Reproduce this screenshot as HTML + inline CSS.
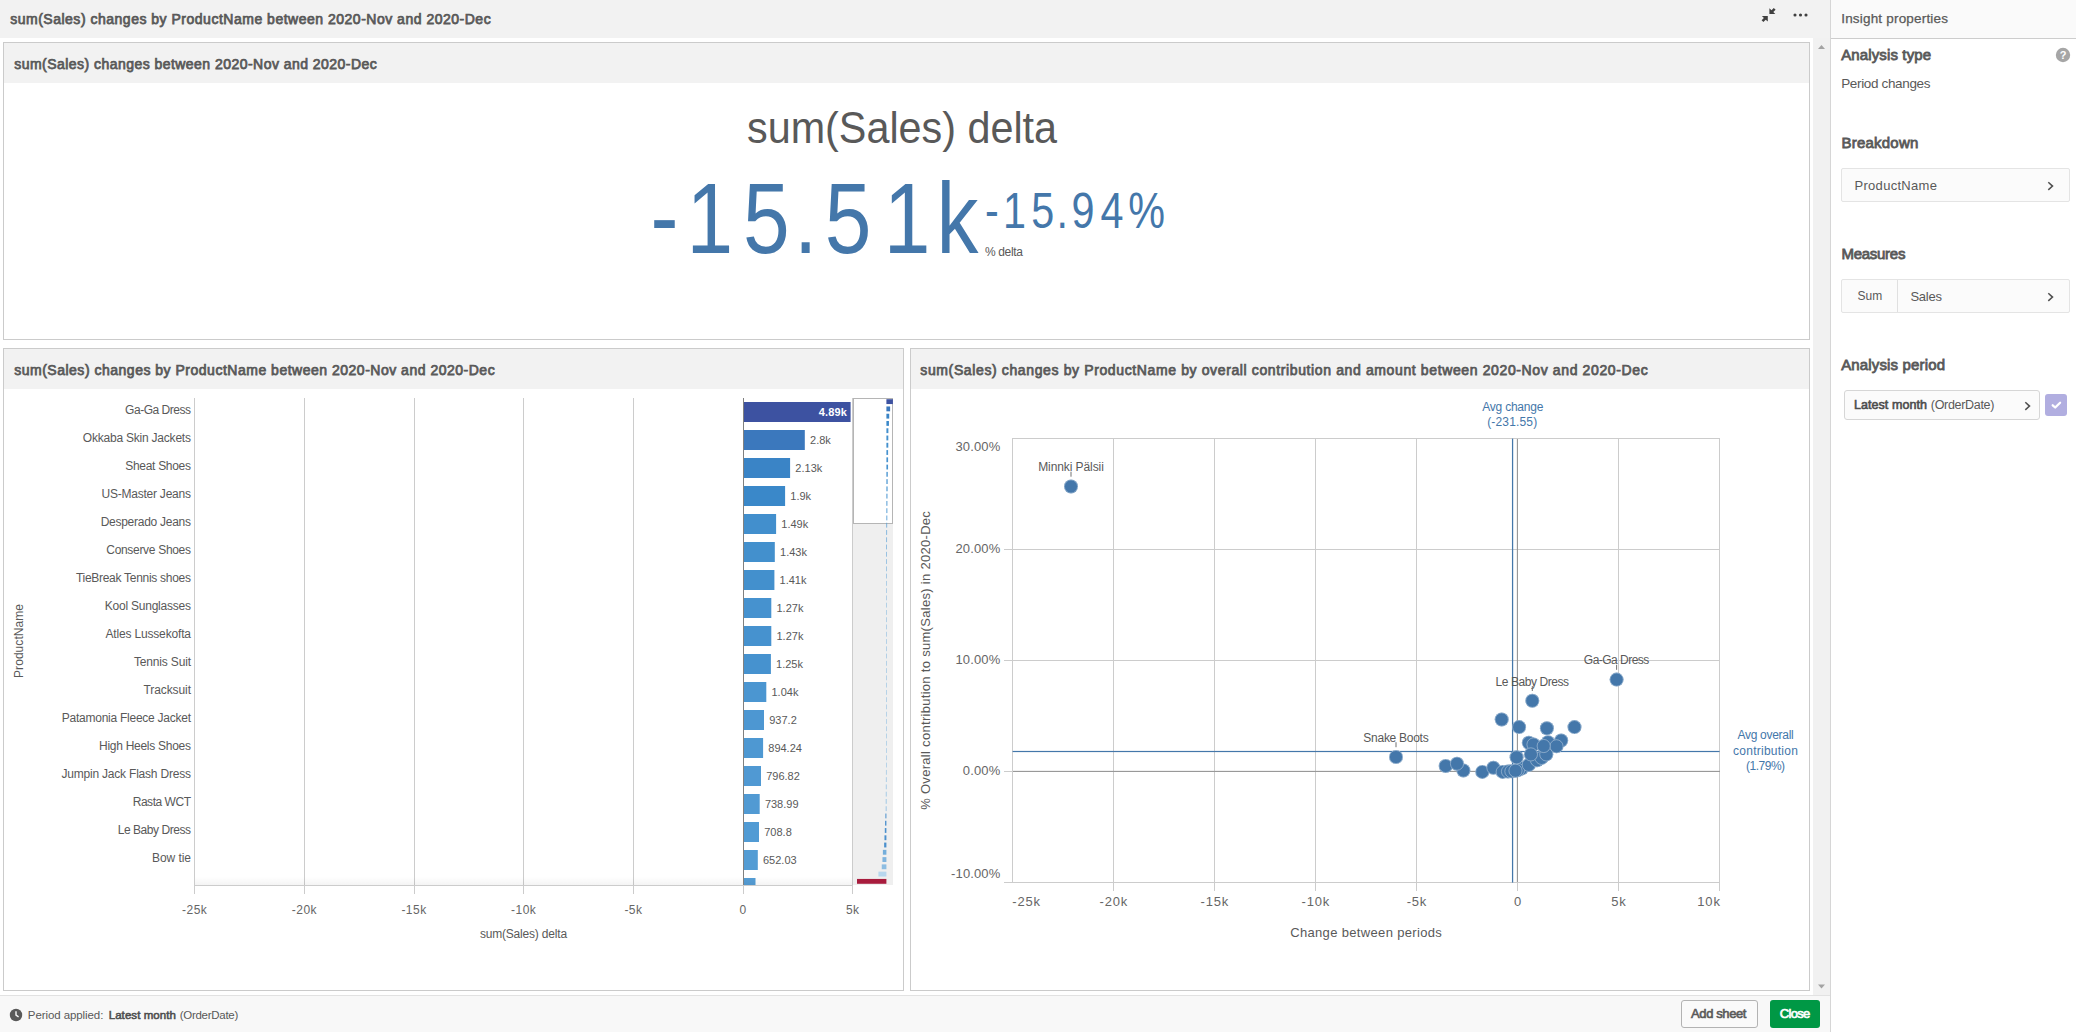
<!DOCTYPE html>
<html lang="en"><head><meta charset="utf-8"><title>sum(Sales) changes by ProductName between 2020-Nov and 2020-Dec</title>
<style>
html,body{margin:0;padding:0;}
body{width:2076px;height:1032px;overflow:hidden;background:#fff;position:relative;font-family:"Liberation Sans",sans-serif;color:#595959;}
*{box-sizing:border-box;}
.t{position:absolute;white-space:nowrap;margin:0;padding:0;font-weight:400;}
.abs{position:absolute;}
#main{position:absolute;left:0;top:0;width:1830px;height:1032px;background:#fff;overflow:hidden;}
#topbar{position:absolute;left:0;top:0;width:1830px;height:38px;background:#f2f2f2;}
#scroll{position:absolute;left:1813px;top:38px;width:17px;height:957px;background:#f1f1f1;}
.card{position:absolute;border:1px solid #cbcbcb;background:#fff;overflow:hidden;}
.card .hd{position:absolute;left:0;top:0;right:0;height:40px;background:#f2f2f2;}
#footer{position:absolute;left:0;top:995px;width:1830px;height:37px;background:#f8f8f8;border-top:1px solid #e2e2e2;}
#side{position:absolute;left:1830px;top:0;width:246px;height:1032px;background:#fff;border-left:1px solid #d6d6d6;}
#side .hd{position:absolute;left:0;top:0;right:0;height:39px;background:#fafafa;border-bottom:1px solid #cdcdcd;}
.box{position:absolute;background:#fbfbfb;border:1px solid #e4e4e4;border-radius:2px;}
.btn{position:absolute;border-radius:3px;height:28px;top:4px;}
svg{position:absolute;overflow:visible;}
svg text{font-family:"Liberation Sans",sans-serif;}
</style></head><body>
<div id="main"><header id="topbar"><h1 class="t" style="top:8.65px;font-size:14px;line-height:20px;color:#595959;letter-spacing:0.507px;left:10.20px;-webkit-text-stroke:0.75px #595959;">sum(Sales) changes by ProductName between 2020-Nov and 2020-Dec</h1><svg width="60" height="38" viewBox="1755 0 60 38" style="left:1755px;top:0">
<g fill="#404040">
<path d="M1769.4 8.2 L1769.4 14 L1775.3 14 L1773.3 12 L1775.6 9.7 L1773.8 7.9 L1771.5 10.2 Z"/>
<path d="M1767.8 21.6 L1767.8 16 L1761.9 16 L1763.9 18 L1761.6 20.3 L1763.4 22.1 L1765.7 19.8 Z"/>
<circle cx="1795" cy="15" r="1.55"/><circle cx="1800.5" cy="15" r="1.55"/><circle cx="1806" cy="15" r="1.55"/>
</g></svg></header><div id="scroll"><svg width="17" height="957" viewBox="0 0 17 957" style="left:0;top:0"><path d="M5 11 L8.5 7 L12 11 Z" fill="#a3a3a3"/><path d="M5 946.5 L8.5 950.5 L12 946.5 Z" fill="#a3a3a3"/></svg></div><section class="card" style="left:3px;top:42px;width:1807px;height:298px;"><div class="hd"></div><h2 class="t" style="top:10.55px;font-size:14px;line-height:20px;color:#595959;letter-spacing:0.461px;left:10.20px;-webkit-text-stroke:0.75px #595959;">sum(Sales) changes between 2020-Nov and 2020-Dec</h2><span class="t" style="top:55.49px;font-size:43.6px;line-height:61px;color:#595959;left:743.00px;transform:scaleX(0.948);transform-origin:0 50%;">sum(Sales) delta</span><svg width="1805" height="256" viewBox="4 83 1805 256" style="left:0;top:40px"><text transform="scale(0.835,1)" x="778.95 822.04 889.75 950.99 987.84 1058.33 1121.67" y="253.2" dy="-2.2 2.2 0 0 0 0 0" font-size="100.5" fill="#4477aa">-15.51k</text><text transform="scale(0.83,1)" x="1186.67 1208.55 1242.59 1272.89 1290.86 1325.77 1359.22" y="228.0" dy="-1.1 1.1 0 0 0 0 0" font-size="49.8" fill="#4477aa">-15.94%</text></svg><span class="t" style="top:200.94px;font-size:12px;line-height:17px;color:#595959;letter-spacing:-0.361px;left:981.00px;">% delta</span></section><section class="card" style="left:3px;top:348px;width:901px;height:643px;"><div class="hd"></div><h2 class="t" style="top:10.75px;font-size:14px;line-height:20px;color:#595959;letter-spacing:0.507px;left:10.20px;-webkit-text-stroke:0.75px #595959;">sum(Sales) changes by ProductName between 2020-Nov and 2020-Dec</h2><svg width="899" height="601" viewBox="4 389 899 601" style="left:0;top:40px"><rect x="194" y="398" width="1" height="496" fill="#cccccc"/><rect x="304" y="398" width="1" height="496" fill="#cccccc"/><rect x="414" y="398" width="1" height="496" fill="#cccccc"/><rect x="523" y="398" width="1" height="496" fill="#cccccc"/><rect x="633" y="398" width="1" height="496" fill="#cccccc"/><rect x="852" y="398" width="1" height="496" fill="#cccccc"/><rect x="194" y="885" width="659" height="1" fill="#cccccc"/><defs><linearGradient id="sh" x1="0" y1="0" x2="0" y2="1"><stop offset="0" stop-color="#000" stop-opacity="0"/><stop offset="1" stop-color="#000" stop-opacity="0.045"/></linearGradient><clipPath id="cp"><rect x="195" y="398" width="658" height="487"/></clipPath></defs><g clip-path="url(#cp)"><rect x="743.5" y="402" width="107.1" height="20" fill="#3d52a1"/><rect x="743.5" y="430" width="61.3" height="20" fill="#3b78bd"/><rect x="743.5" y="458" width="46.6" height="20" fill="#3a84c6"/><rect x="743.5" y="486" width="41.6" height="20" fill="#3a88c9"/><rect x="743.5" y="514" width="32.6" height="20" fill="#428fcd"/><rect x="743.5" y="542" width="31.3" height="20" fill="#4390cd"/><rect x="743.5" y="570" width="30.9" height="20" fill="#4390cd"/><rect x="743.5" y="598" width="27.8" height="20" fill="#4692cf"/><rect x="743.5" y="626" width="27.8" height="20" fill="#4692cf"/><rect x="743.5" y="654" width="27.4" height="20" fill="#4692cf"/><rect x="743.5" y="682" width="22.8" height="20" fill="#4b96d1"/><rect x="743.5" y="710" width="20.5" height="20" fill="#4d97d2"/><rect x="743.5" y="738" width="19.6" height="20" fill="#4e98d2"/><rect x="743.5" y="766" width="17.5" height="20" fill="#5099d3"/><rect x="743.5" y="794" width="16.2" height="20" fill="#519ad3"/><rect x="743.5" y="822" width="15.5" height="20" fill="#519bd4"/><rect x="743.5" y="850" width="14.3" height="20" fill="#539cd4"/><rect x="743.5" y="878" width="12.0" height="20" fill="#559dd5"/><rect x="195" y="877" width="658" height="8" fill="url(#sh)"/></g><rect x="743" y="398" width="1" height="487" fill="#808080"/><rect x="743" y="885" width="1" height="9" fill="#cccccc"/><text x="190.52" y="414.00" font-size="12" fill="#595959" text-anchor="end" letter-spacing="-0.48">Ga-Ga Dress</text><text x="847.20" y="415.80" font-size="11" fill="#ffffff" text-anchor="end" letter-spacing="0.195" font-weight="700">4.89k</text><text x="190.79" y="442.00" font-size="12" fill="#595959" text-anchor="end" letter-spacing="-0.213">Okkaba Skin Jackets</text><text x="810.02" y="444.00" font-size="11" fill="#595959">2.8k</text><text x="190.70" y="470.00" font-size="12" fill="#595959" text-anchor="end" letter-spacing="-0.302">Sheat Shoes</text><text x="795.35" y="472.00" font-size="11" fill="#595959">2.13k</text><text x="190.77" y="498.00" font-size="12" fill="#595959" text-anchor="end" letter-spacing="-0.227">US-Master Jeans</text><text x="790.31" y="500.00" font-size="11" fill="#595959">1.9k</text><text x="190.74" y="526.00" font-size="12" fill="#595959" text-anchor="end" letter-spacing="-0.264">Desperado Jeans</text><text x="781.33" y="528.00" font-size="11" fill="#595959">1.49k</text><text x="190.69" y="554.00" font-size="12" fill="#595959" text-anchor="end" letter-spacing="-0.309">Conserve Shoes</text><text x="780.02" y="556.00" font-size="11" fill="#595959">1.43k</text><text x="190.72" y="582.00" font-size="12" fill="#595959" text-anchor="end" letter-spacing="-0.283">TieBreak Tennis shoes</text><text x="779.58" y="584.00" font-size="11" fill="#595959">1.41k</text><text x="190.77" y="610.00" font-size="12" fill="#595959" text-anchor="end" letter-spacing="-0.226">Kool Sunglasses</text><text x="776.51" y="612.00" font-size="11" fill="#595959">1.27k</text><text x="190.83" y="638.00" font-size="12" fill="#595959" text-anchor="end" letter-spacing="-0.166">Atles Lussekofta</text><text x="776.51" y="640.00" font-size="11" fill="#595959">1.27k</text><text x="190.84" y="666.00" font-size="12" fill="#595959" text-anchor="end" letter-spacing="-0.164">Tennis Suit</text><text x="776.08" y="668.00" font-size="11" fill="#595959">1.25k</text><text x="190.90" y="694.00" font-size="12" fill="#595959" text-anchor="end" letter-spacing="-0.103">Tracksuit</text><text x="771.48" y="696.00" font-size="11" fill="#595959">1.04k</text><text x="190.75" y="722.00" font-size="12" fill="#595959" text-anchor="end" letter-spacing="-0.254">Patamonia Fleece Jacket</text><text x="769.22" y="724.00" font-size="11" fill="#595959">937.2</text><text x="190.73" y="750.00" font-size="12" fill="#595959" text-anchor="end" letter-spacing="-0.272">High Heels Shoes</text><text x="768.28" y="752.00" font-size="11" fill="#595959">894.24</text><text x="190.79" y="778.00" font-size="12" fill="#595959" text-anchor="end" letter-spacing="-0.206">Jumpin Jack Flash Dress</text><text x="766.15" y="780.00" font-size="11" fill="#595959">796.82</text><text x="190.53" y="806.00" font-size="12" fill="#595959" text-anchor="end" letter-spacing="-0.467">Rasta WCT</text><text x="764.88" y="808.00" font-size="11" fill="#595959">738.99</text><text x="190.55" y="834.00" font-size="12" fill="#595959" text-anchor="end" letter-spacing="-0.454">Le Baby Dress</text><text x="764.22" y="836.00" font-size="11" fill="#595959">708.8</text><text x="190.94" y="862.00" font-size="12" fill="#595959" text-anchor="end" letter-spacing="-0.065">Bow tie</text><text x="762.98" y="864.00" font-size="11" fill="#595959">652.03</text><text x="194.73" y="914.00" font-size="12" fill="#666666" text-anchor="middle" letter-spacing="0.467">-25k</text><text x="304.43" y="914.00" font-size="12" fill="#666666" text-anchor="middle" letter-spacing="0.467">-20k</text><text x="414.03" y="914.00" font-size="12" fill="#666666" text-anchor="middle" letter-spacing="0.467">-15k</text><text x="523.73" y="914.00" font-size="12" fill="#666666" text-anchor="middle" letter-spacing="0.467">-10k</text><text x="633.42" y="914.00" font-size="12" fill="#666666" text-anchor="middle" letter-spacing="0.445">-5k</text><text x="743.07" y="914.00" font-size="12" fill="#666666" text-anchor="middle" letter-spacing="0.534">0</text><text x="852.75" y="914.00" font-size="12" fill="#666666" text-anchor="middle" letter-spacing="0.507">5k</text><text x="523.40" y="938.00" font-size="12" fill="#595959" text-anchor="middle" letter-spacing="-0.19">sum(Sales) delta</text><g transform="translate(22.5,641) rotate(-90)"><text x="0.03" y="0.00" font-size="12" fill="#595959" text-anchor="middle" letter-spacing="0.057">ProductName</text></g><rect x="853" y="398" width="40" height="487" fill="#efefef"/><rect x="853.5" y="398.5" width="39" height="125" fill="#ffffff" stroke="#b5b5b5"/><rect x="886.40" y="399.20" width="6.50" height="4.85" fill="#3d52a1"/><rect x="886.40" y="406.47" width="3.72" height="4.85" fill="#3b78bd"/><rect x="886.40" y="413.74" width="2.83" height="4.85" fill="#3a84c6"/><rect x="886.40" y="421.01" width="2.53" height="4.85" fill="#3a88c9"/><rect x="886.40" y="428.27" width="1.98" height="4.85" fill="#428fcd"/><rect x="886.40" y="435.54" width="1.90" height="4.85" fill="#4390cd"/><rect x="886.40" y="442.81" width="1.88" height="4.85" fill="#4390cd"/><rect x="886.40" y="450.08" width="1.69" height="4.85" fill="#4692cf"/><rect x="886.40" y="457.35" width="1.69" height="4.85" fill="#4692cf"/><rect x="886.40" y="464.62" width="1.66" height="4.85" fill="#4692cf"/><rect x="886.40" y="471.89" width="1.38" height="4.85" fill="#4b96d1"/><rect x="886.40" y="479.16" width="1.25" height="4.85" fill="#4d97d2"/><rect x="886.40" y="486.42" width="1.19" height="4.85" fill="#4e98d2"/><rect x="886.40" y="493.69" width="1.06" height="4.85" fill="#5099d3"/><rect x="886.40" y="500.96" width="0.98" height="4.85" fill="#519ad3"/><rect x="886.40" y="508.23" width="0.94" height="4.85" fill="#519bd4"/><rect x="886.40" y="515.50" width="0.87" height="4.85" fill="#539cd4"/><rect x="886.40" y="522.77" width="0.73" height="4.85" fill="#559dd5"/><rect x="886.40" y="530.04" width="0.67" height="4.85" fill="#569ed6"/><rect x="886.40" y="537.30" width="0.63" height="4.85" fill="#569ed6"/><rect x="886.40" y="544.57" width="0.60" height="4.85" fill="#579fd6"/><rect x="886.40" y="551.84" width="0.57" height="4.85" fill="#579fd6"/><rect x="886.40" y="559.11" width="0.53" height="4.85" fill="#589fd7"/><rect x="886.40" y="566.38" width="0.50" height="4.85" fill="#58a0d7"/><rect x="886.40" y="573.65" width="0.47" height="4.85" fill="#59a0d7"/><rect x="886.40" y="580.92" width="0.43" height="4.85" fill="#59a1d7"/><rect x="886.40" y="588.19" width="0.40" height="4.85" fill="#5aa1d8"/><rect x="886.40" y="595.45" width="0.40" height="4.85" fill="#5aa1d8"/><rect x="886.40" y="602.72" width="0.40" height="4.85" fill="#5ba2d8"/><rect x="886.40" y="609.99" width="0.40" height="4.85" fill="#5ba2d8"/><rect x="886.40" y="617.26" width="0.40" height="4.85" fill="#5ca2d8"/><rect x="886.40" y="624.53" width="0.40" height="4.85" fill="#5ca3d9"/><rect x="886.40" y="631.80" width="0.40" height="4.85" fill="#5da3d9"/><rect x="886.40" y="639.07" width="0.40" height="4.85" fill="#5da4d9"/><rect x="886.40" y="646.33" width="0.40" height="4.85" fill="#5ea4d9"/><rect x="886.40" y="653.60" width="0.40" height="4.85" fill="#5ea4da"/><rect x="886.40" y="660.87" width="0.40" height="4.85" fill="#5fa5da"/><rect x="886.40" y="668.14" width="0.40" height="4.85" fill="#5fa5da"/><rect x="886.40" y="675.41" width="0.40" height="4.85" fill="#5fa5da"/><rect x="886.00" y="682.68" width="0.40" height="4.85" fill="#60a6db"/><rect x="886.00" y="689.95" width="0.40" height="4.85" fill="#61a6db"/><rect x="886.00" y="697.21" width="0.40" height="4.85" fill="#61a7db"/><rect x="886.00" y="704.48" width="0.40" height="4.85" fill="#62a7db"/><rect x="886.00" y="711.75" width="0.40" height="4.85" fill="#62a7db"/><rect x="886.00" y="719.02" width="0.40" height="4.85" fill="#63a8dc"/><rect x="886.00" y="726.29" width="0.40" height="4.85" fill="#63a8dc"/><rect x="886.00" y="733.56" width="0.40" height="4.85" fill="#64a9dc"/><rect x="886.00" y="740.83" width="0.40" height="4.85" fill="#64a9dc"/><rect x="886.00" y="748.10" width="0.40" height="4.85" fill="#65a9dd"/><rect x="886.00" y="755.36" width="0.40" height="4.85" fill="#65aadd"/><rect x="886.00" y="762.63" width="0.40" height="4.85" fill="#66aadd"/><rect x="885.97" y="769.90" width="0.43" height="4.85" fill="#66aadd"/><rect x="885.93" y="777.17" width="0.47" height="4.85" fill="#67abde"/><rect x="885.90" y="784.44" width="0.50" height="4.85" fill="#67abde"/><rect x="885.87" y="791.71" width="0.53" height="4.85" fill="#68acde"/><rect x="885.83" y="798.98" width="0.57" height="4.85" fill="#68acde"/><rect x="885.80" y="806.24" width="0.60" height="4.85" fill="#69acde"/><rect x="885.39" y="813.51" width="1.01" height="4.85" fill="#4b90cd"/><rect x="885.07" y="820.78" width="1.33" height="4.85" fill="#4b90cd"/><rect x="884.80" y="828.05" width="1.60" height="4.85" fill="#4b90cd"/><rect x="884.47" y="835.32" width="1.93" height="4.85" fill="#4b90cd"/><rect x="884.14" y="842.59" width="2.26" height="4.85" fill="#4b90cd"/><rect x="882.88" y="849.86" width="3.52" height="4.85" fill="#74aedb"/><rect x="882.45" y="857.13" width="3.95" height="4.85" fill="#7fb4de"/><rect x="881.75" y="864.39" width="4.66" height="4.85" fill="#8dbde2"/><rect x="878.42" y="871.66" width="7.98" height="4.85" fill="#b7d7ee"/><rect x="857.01" y="878.93" width="29.39" height="4.85" fill="#a81c3d"/></svg></section><section class="card" style="left:910px;top:348px;width:900px;height:643px;"><div class="hd"></div><h2 class="t" style="top:10.75px;font-size:14px;line-height:20px;color:#595959;letter-spacing:0.623px;left:9.30px;-webkit-text-stroke:0.75px #595959;">sum(Sales) changes by ProductName by overall contribution and amount between 2020-Nov and 2020-Dec</h2><svg width="898" height="601" viewBox="911 389 898 601" style="left:0;top:40px"><rect x="1012" y="438" width="1" height="445" fill="#cccccc"/><rect x="1113" y="438" width="1" height="453" fill="#cccccc"/><rect x="1214" y="438" width="1" height="453" fill="#cccccc"/><rect x="1315" y="438" width="1" height="453" fill="#cccccc"/><rect x="1416" y="438" width="1" height="453" fill="#cccccc"/><rect x="1618" y="438" width="1" height="453" fill="#cccccc"/><rect x="1719" y="438" width="1" height="453" fill="#cccccc"/><rect x="1012" y="438" width="708" height="1" fill="#cccccc"/><rect x="1004" y="549" width="716" height="1" fill="#cccccc"/><rect x="1004" y="660" width="716" height="1" fill="#cccccc"/><rect x="1004" y="882" width="716" height="1" fill="#cccccc"/><rect x="1004" y="771" width="9" height="1" fill="#cccccc"/><rect x="1013" y="770.85" width="707" height="1.15" fill="#999999"/><rect x="1516.85" y="439" width="1.15" height="443" fill="#999999"/><rect x="1517" y="882" width="1" height="9" fill="#cccccc"/><rect x="1511.95" y="438.6" width="1.25" height="444" fill="#4477aa"/><rect x="1012.6" y="750.9" width="707" height="1.2" fill="#4477aa"/><text x="1000.45" y="451.00" font-size="13" fill="#666666" text-anchor="end" letter-spacing="0.147">30.00%</text><text x="1000.45" y="553.30" font-size="13" fill="#666666" text-anchor="end" letter-spacing="0.147">20.00%</text><text x="1000.45" y="664.00" font-size="13" fill="#666666" text-anchor="end" letter-spacing="0.147">10.00%</text><text x="1000.45" y="775.00" font-size="13" fill="#666666" text-anchor="end" letter-spacing="0.147">0.00%</text><text x="1000.44" y="877.70" font-size="13" fill="#666666" text-anchor="end" letter-spacing="0.138">-10.00%</text><text x="1012.30" y="905.50" font-size="13" fill="#666666" letter-spacing="0.822">-25k</text><text x="1113.91" y="905.50" font-size="13" fill="#666666" text-anchor="middle" letter-spacing="0.822">-20k</text><text x="1214.91" y="905.50" font-size="13" fill="#666666" text-anchor="middle" letter-spacing="0.822">-15k</text><text x="1315.91" y="905.50" font-size="13" fill="#666666" text-anchor="middle" letter-spacing="0.822">-10k</text><text x="1416.89" y="905.50" font-size="13" fill="#666666" text-anchor="middle" letter-spacing="0.783">-5k</text><text x="1517.97" y="905.50" font-size="13" fill="#666666" text-anchor="middle" letter-spacing="0.94">0</text><text x="1618.95" y="905.50" font-size="13" fill="#666666" text-anchor="middle" letter-spacing="0.892">5k</text><text x="1720.91" y="905.50" font-size="13" fill="#666666" text-anchor="end" letter-spacing="0.908">10k</text><text x="1366.17" y="937.00" font-size="13" fill="#595959" text-anchor="middle" letter-spacing="0.339">Change between periods</text><g transform="translate(930,660.5) rotate(-90)"><text x="0.15" y="0.00" font-size="13" fill="#595959" text-anchor="middle" letter-spacing="0.298">% Overall contribution to sum(Sales) in 2020-Dec</text></g><text x="1512.68" y="411.20" font-size="12" fill="#4477aa" text-anchor="middle" letter-spacing="-0.237">Avg change</text><text x="1512.28" y="426.10" font-size="12" fill="#4477aa" text-anchor="middle" letter-spacing="0.167">(-231.55)</text><text x="1765.46" y="739.00" font-size="12" fill="#4477aa" text-anchor="middle" letter-spacing="-0.286">Avg overall</text><text x="1765.62" y="755.00" font-size="12" fill="#4477aa" text-anchor="middle" letter-spacing="0.247">contribution</text><text x="1765.35" y="769.50" font-size="12" fill="#4477aa" text-anchor="middle" letter-spacing="-0.503">(1.79%)</text><text x="1070.96" y="470.90" font-size="12" fill="#595959" text-anchor="middle" letter-spacing="-0.084">Minnki Pälsii</text><rect x="1070.5" y="471.7" width="1" height="5" fill="#737373"/><text x="1616.34" y="664.20" font-size="12" fill="#595959" text-anchor="middle" letter-spacing="-0.517">Ga-Ga Dress</text><rect x="1616.1" y="664.8" width="1" height="5" fill="#737373"/><text x="1532.08" y="686.00" font-size="12" fill="#595959" text-anchor="middle" letter-spacing="-0.439">Le Baby Dress</text><rect x="1531.8" y="686.0" width="1" height="5" fill="#737373"/><text x="1395.86" y="741.70" font-size="12" fill="#595959" text-anchor="middle" letter-spacing="-0.277">Snake Boots</text><rect x="1395.5" y="742.2" width="1" height="5" fill="#737373"/><g fill="#4477aa"><circle cx="1071" cy="486.5" r="7"/><circle cx="1071" cy="486.5" r="6.6" fill="none" stroke="#ffffff" stroke-opacity="0.45" stroke-width="0.8"/><circle cx="1616.6" cy="679.6" r="7"/><circle cx="1616.6" cy="679.6" r="6.6" fill="none" stroke="#ffffff" stroke-opacity="0.45" stroke-width="0.8"/><circle cx="1396" cy="757" r="7"/><circle cx="1396" cy="757" r="6.6" fill="none" stroke="#ffffff" stroke-opacity="0.45" stroke-width="0.8"/><circle cx="1445.7" cy="766" r="7"/><circle cx="1445.7" cy="766" r="6.6" fill="none" stroke="#ffffff" stroke-opacity="0.45" stroke-width="0.8"/><circle cx="1463.4" cy="770.5" r="7"/><circle cx="1463.4" cy="770.5" r="6.6" fill="none" stroke="#ffffff" stroke-opacity="0.45" stroke-width="0.8"/><circle cx="1457" cy="763.7" r="7"/><circle cx="1457" cy="763.7" r="6.6" fill="none" stroke="#ffffff" stroke-opacity="0.45" stroke-width="0.8"/><circle cx="1482.3" cy="771.9" r="7"/><circle cx="1482.3" cy="771.9" r="6.6" fill="none" stroke="#ffffff" stroke-opacity="0.45" stroke-width="0.8"/><circle cx="1493.4" cy="767.8" r="7"/><circle cx="1493.4" cy="767.8" r="6.6" fill="none" stroke="#ffffff" stroke-opacity="0.45" stroke-width="0.8"/><circle cx="1502.7" cy="771.9" r="7"/><circle cx="1502.7" cy="771.9" r="6.6" fill="none" stroke="#ffffff" stroke-opacity="0.45" stroke-width="0.8"/><circle cx="1508" cy="771.5" r="7"/><circle cx="1508" cy="771.5" r="6.6" fill="none" stroke="#ffffff" stroke-opacity="0.45" stroke-width="0.8"/><circle cx="1511.4" cy="771.3" r="7"/><circle cx="1511.4" cy="771.3" r="6.6" fill="none" stroke="#ffffff" stroke-opacity="0.45" stroke-width="0.8"/><circle cx="1521.9" cy="768.4" r="7"/><circle cx="1521.9" cy="768.4" r="6.6" fill="none" stroke="#ffffff" stroke-opacity="0.45" stroke-width="0.8"/><circle cx="1518" cy="770" r="7"/><circle cx="1518" cy="770" r="6.6" fill="none" stroke="#ffffff" stroke-opacity="0.45" stroke-width="0.8"/><circle cx="1515.5" cy="770.7" r="7"/><circle cx="1515.5" cy="770.7" r="6.6" fill="none" stroke="#ffffff" stroke-opacity="0.45" stroke-width="0.8"/><circle cx="1528.8" cy="764.9" r="7"/><circle cx="1528.8" cy="764.9" r="6.6" fill="none" stroke="#ffffff" stroke-opacity="0.45" stroke-width="0.8"/><circle cx="1537" cy="760.2" r="7"/><circle cx="1537" cy="760.2" r="6.6" fill="none" stroke="#ffffff" stroke-opacity="0.45" stroke-width="0.8"/><circle cx="1541.6" cy="757.9" r="7"/><circle cx="1541.6" cy="757.9" r="6.6" fill="none" stroke="#ffffff" stroke-opacity="0.45" stroke-width="0.8"/><circle cx="1546.3" cy="754.4" r="7"/><circle cx="1546.3" cy="754.4" r="6.6" fill="none" stroke="#ffffff" stroke-opacity="0.45" stroke-width="0.8"/><circle cx="1516.6" cy="757.3" r="7"/><circle cx="1516.6" cy="757.3" r="6.6" fill="none" stroke="#ffffff" stroke-opacity="0.45" stroke-width="0.8"/><circle cx="1528.8" cy="742.8" r="7"/><circle cx="1528.8" cy="742.8" r="6.6" fill="none" stroke="#ffffff" stroke-opacity="0.45" stroke-width="0.8"/><circle cx="1533.5" cy="744.5" r="7"/><circle cx="1533.5" cy="744.5" r="6.6" fill="none" stroke="#ffffff" stroke-opacity="0.45" stroke-width="0.8"/><circle cx="1548" cy="742.2" r="7"/><circle cx="1548" cy="742.2" r="6.6" fill="none" stroke="#ffffff" stroke-opacity="0.45" stroke-width="0.8"/><circle cx="1561.2" cy="740.5" r="7"/><circle cx="1561.2" cy="740.5" r="6.6" fill="none" stroke="#ffffff" stroke-opacity="0.45" stroke-width="0.8"/><circle cx="1556.5" cy="746.3" r="7"/><circle cx="1556.5" cy="746.3" r="6.6" fill="none" stroke="#ffffff" stroke-opacity="0.45" stroke-width="0.8"/><circle cx="1543.7" cy="746" r="7"/><circle cx="1543.7" cy="746" r="6.6" fill="none" stroke="#ffffff" stroke-opacity="0.45" stroke-width="0.8"/><circle cx="1530.9" cy="754.4" r="7"/><circle cx="1530.9" cy="754.4" r="6.6" fill="none" stroke="#ffffff" stroke-opacity="0.45" stroke-width="0.8"/><circle cx="1501.7" cy="719.5" r="7"/><circle cx="1501.7" cy="719.5" r="6.6" fill="none" stroke="#ffffff" stroke-opacity="0.45" stroke-width="0.8"/><circle cx="1519.1" cy="727.1" r="7"/><circle cx="1519.1" cy="727.1" r="6.6" fill="none" stroke="#ffffff" stroke-opacity="0.45" stroke-width="0.8"/><circle cx="1546.9" cy="728.3" r="7"/><circle cx="1546.9" cy="728.3" r="6.6" fill="none" stroke="#ffffff" stroke-opacity="0.45" stroke-width="0.8"/><circle cx="1574.5" cy="727.1" r="7"/><circle cx="1574.5" cy="727.1" r="6.6" fill="none" stroke="#ffffff" stroke-opacity="0.45" stroke-width="0.8"/><circle cx="1532.3" cy="700.8" r="7"/><circle cx="1532.3" cy="700.8" r="6.6" fill="none" stroke="#ffffff" stroke-opacity="0.45" stroke-width="0.8"/></g></svg></section><footer id="footer"><svg width="14" height="14" viewBox="0 0 14 14" style="left:9px;top:12px"><circle cx="7" cy="7" r="6.2" fill="#595959"/><path d="M7 3.2 V7.2 L9.6 8.8" stroke="#f8f8f8" stroke-width="1.4" fill="none"/></svg><span class="t" style="top:10.62px;font-size:11.5px;line-height:16px;color:#595959;letter-spacing:-0.082px;left:27.80px;">Period applied:</span><span class="t" style="top:10.62px;font-size:11.5px;line-height:16px;color:#4d4d4d;letter-spacing:0.068px;left:108.70px;-webkit-text-stroke:0.55px #4d4d4d;">Latest month</span><span class="t" style="top:10.62px;font-size:11.5px;line-height:16px;color:#595959;letter-spacing:-0.277px;left:179.70px;">(OrderDate)</span><div class="btn" style="left:1681px;width:77px;background:#fafafa;border:1px solid #b3b3b3;"></div><span class="t" style="top:8.70px;font-size:13px;line-height:18px;color:#595959;letter-spacing:-0.394px;left:1691.10px;-webkit-text-stroke:0.6px #595959;">Add sheet</span><div class="btn" style="left:1770px;width:50px;background:#009845;"></div><span class="t" style="top:8.70px;font-size:13px;line-height:18px;color:#ffffff;letter-spacing:-0.647px;left:1779.70px;-webkit-text-stroke:0.65px #ffffff;">Close</span></footer></div><aside id="side"><div class="hd"></div><h2 class="t" style="top:8.82px;font-size:13.5px;line-height:19px;color:#595959;letter-spacing:0.191px;left:10.20px;-webkit-text-stroke:0.25px #595959;">Insight properties</h2><h3 class="t" style="top:44.30px;font-size:15px;line-height:21px;color:#595959;letter-spacing:0.125px;left:10.20px;-webkit-text-stroke:0.8px #595959;">Analysis type</h3><svg width="16" height="16" viewBox="0 0 16 16" style="left:224px;top:47.2px"><circle cx="8" cy="8" r="7.2" fill="#a6a6a6"/><text x="8" y="11.8" text-anchor="middle" font-size="11" font-weight="700" fill="#ffffff">?</text></svg><span class="t" style="top:73.62px;font-size:13.5px;line-height:19px;color:#595959;letter-spacing:-0.344px;left:10.20px;">Period changes</span><h3 class="t" style="top:132.30px;font-size:15px;line-height:21px;color:#595959;letter-spacing:0.217px;left:10.50px;-webkit-text-stroke:0.8px #595959;">Breakdown</h3><div class="box" style="left:10px;top:168px;width:229px;height:34px;"></div><span class="t" style="top:176.50px;font-size:13px;line-height:18px;color:#595959;letter-spacing:0.293px;left:23.50px;">ProductName</span><svg width="8" height="10" viewBox="0 0 8 10" style="left:216.2px;top:180.5px"><path d="M1.3 1.3 L5.5 5.1 L1.3 8.9" stroke="#505050" stroke-width="1.55" fill="none"/></svg><h3 class="t" style="top:242.90px;font-size:15px;line-height:21px;color:#595959;letter-spacing:-0.283px;left:10.50px;-webkit-text-stroke:0.8px #595959;">Measures</h3><div class="box" style="left:10px;top:279px;width:229px;height:34px;"></div><div class="abs" style="left:66px;top:280px;width:1px;height:32px;background:#e0e0e0;"></div><span class="t" style="top:288.04px;font-size:12px;line-height:17px;color:#595959;letter-spacing:0.042px;left:26.50px;">Sum</span><span class="t" style="top:287.50px;font-size:13px;line-height:18px;color:#595959;letter-spacing:-0.244px;left:79.40px;">Sales</span><svg width="8" height="10" viewBox="0 0 8 10" style="left:216.2px;top:291.6px"><path d="M1.3 1.3 L5.5 5.1 L1.3 8.9" stroke="#505050" stroke-width="1.55" fill="none"/></svg><h3 class="t" style="top:354.00px;font-size:15px;line-height:21px;color:#595959;letter-spacing:0.152px;left:10.20px;-webkit-text-stroke:0.8px #595959;">Analysis period</h3><div class="box" style="left:13px;top:390px;width:196px;height:30px;border-color:#d6d6d6;border-radius:3px;"></div><span class="t" style="top:395.67px;font-size:12.5px;line-height:18px;color:#4d4d4d;letter-spacing:0.078px;left:22.90px;-webkit-text-stroke:0.6px #4d4d4d;">Latest month</span><span class="t" style="top:395.67px;font-size:12.5px;line-height:18px;color:#595959;letter-spacing:-0.308px;left:99.80px;">(OrderDate)</span><svg width="8" height="10" viewBox="0 0 8 10" style="left:193.4px;top:400.5px"><path d="M1.3 1.3 L5.5 5.1 L1.3 8.9" stroke="#505050" stroke-width="1.55" fill="none"/></svg><div class="abs" style="left:214px;top:394px;width:22px;height:22px;background:#b1aee0;border-radius:3px;"><svg width="22" height="22" viewBox="0 0 22 22" style="left:0;top:0"><path d="M7.7 11.3 L10.2 13.5 L15.1 8.7" stroke="#ffffff" stroke-width="2.3" stroke-linecap="round" stroke-linejoin="round" fill="none"/></svg></div></aside></body></html>
